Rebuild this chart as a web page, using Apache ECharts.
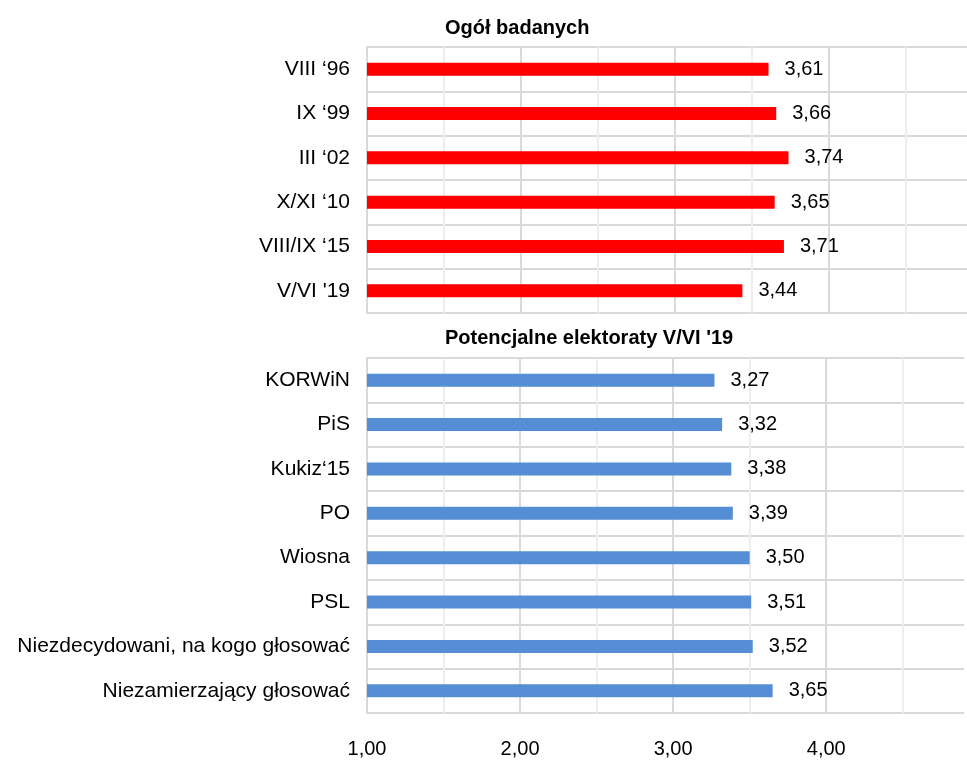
<!DOCTYPE html>
<html>
<head>
<meta charset="utf-8">
<script src="https://cdn.jsdelivr.net/npm/echarts@6/dist/echarts.min.js"></script>
<style>html,body{margin:0;padding:0;background:#fff}#c{width:967px;height:760px}</style>
</head>
<body>
<div id="c"></div>
<script>
const topCategories = ["VIII ‘96", "IX ‘99", "III ‘02", "X/XI ‘10", "VIII/IX ‘15", "V/VI '19"];
const topValues = [3.61, 3.66, 3.74, 3.65, 3.71, 3.44];
const bottomCategories = ["KORWiN", "PiS", "Kukiz‘15", "PO", "Wiosna", "PSL", "Niezdecydowani, na kogo głosować", "Niezamierzający głosować"];
const bottomValues = [3.27, 3.32, 3.38, 3.39, 3.50, 3.51, 3.52, 3.65];
const topTitle = "Ogół badanych";
const bottomTitle = "Potencjalne elektoraty V/VI '19";
const axisMin = 1, axisMax = 4.9;

const fmt = v => v.toFixed(2).replace('.', ',');
const font = "'Liberation Sans', Arial, sans-serif";
const grids = [
  {left: 367, right: 0, top: 47, height: 266},
  {left: 367, right: 0, top: 358, height: 355}
];
function valueAxis(idx, showLabels) {
  return {
    type: 'value', gridIndex: idx, min: axisMin, max: axisMax, interval: 0.5,
    axisLine: {show: false}, axisTick: {show: false},
    axisLabel: {show: showLabels, margin: 26, fontSize: 20, color: '#000', fontFamily: font,
      formatter: v => (Math.abs(v - Math.round(v)) < 1e-9 ? fmt(v) : '')},
    splitLine: {show: true, showMaxLine: false, lineStyle: {color: ['#dadada', '#eeeeee'], width: 2}}
  };
}
function catAxis(idx, data) {
  return {
    type: 'category', gridIndex: idx, data: data, inverse: true,
    axisLine: {show: true, lineStyle: {color: '#d9d9d9', width: 2}},
    axisTick: {show: false},
    axisLabel: {margin: 17, fontSize: 21, color: '#000', fontFamily: font},
    splitLine: {show: true, lineStyle: {color: '#d9d9d9', width: 2}}
  };
}
function barSeries(idx, data, color) {
  return {
    type: 'bar', xAxisIndex: idx, yAxisIndex: idx, data: data, barWidth: 13,
    itemStyle: {color: color},
    label: {show: true, position: 'right', distance: 16, fontSize: 20, color: '#000', fontFamily: font,
      formatter: p => fmt(p.value)},
    animation: false
  };
}
const chart = echarts.init(document.getElementById('c'));
chart.setOption({
  animation: false,
  title: [
    {text: topTitle, left: 440, top: 13, textStyle: {fontSize: 20, fontWeight: 'bold', color: '#000', fontFamily: font}},
    {text: bottomTitle, left: 440, top: 323, textStyle: {fontSize: 20, fontWeight: 'bold', color: '#000', fontFamily: font}}
  ],
  grid: grids,
  xAxis: [valueAxis(0, false), valueAxis(1, true)],
  yAxis: [catAxis(0, topCategories), catAxis(1, bottomCategories)],
  series: [barSeries(0, topValues, '#ff0000'), barSeries(1, bottomValues, '#558ed5')]
});
</script>
</body>
</html>
